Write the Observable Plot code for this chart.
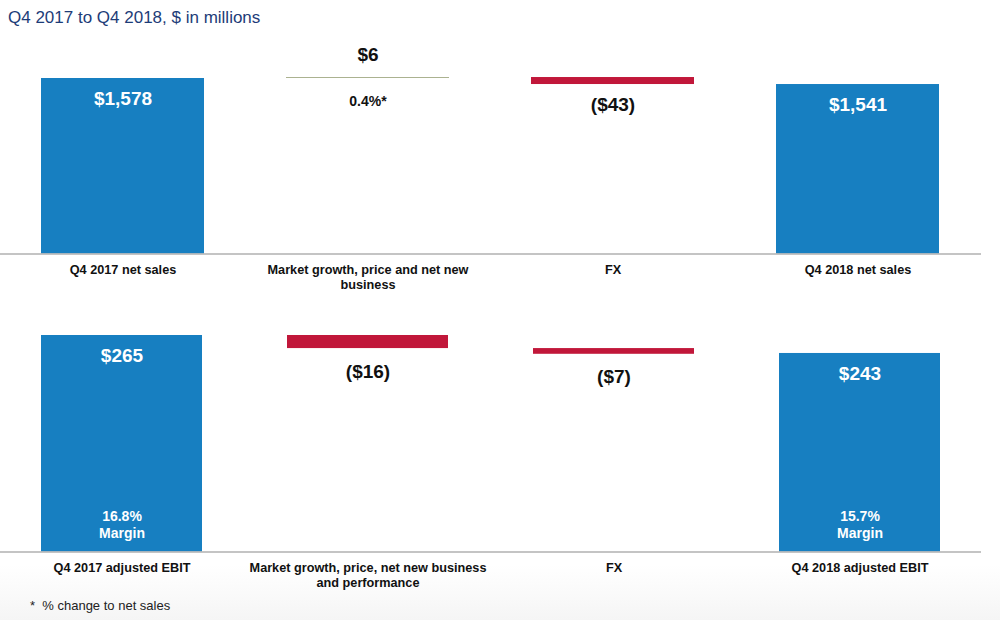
<!DOCTYPE html>
<html><head><meta charset="utf-8">
<script src="https://cdn.jsdelivr.net/npm/d3@7"></script>
<script src="https://cdn.jsdelivr.net/npm/@observablehq/plot@0.6"></script>
<style>
body{margin:0;width:1000px;height:620px;position:relative;overflow:hidden;font-family:"Liberation Sans",Arial,sans-serif;background:linear-gradient(#fff 0,#fff 565px,#f5f5f5 620px);}
#title{position:absolute;left:8px;top:8px;font-size:17px;line-height:20px;color:#1d3c78;white-space:nowrap;}
#top{position:absolute;left:0;top:30px;}
#bottom{position:absolute;left:0;top:300px;}
#note{position:absolute;left:30px;top:598px;font-size:13px;line-height:16px;color:#222;white-space:nowrap;}
svg{background:transparent;}
</style></head>
<body>
<div id="title">Q4 2017 to Q4 2018, $ in millions</div>
<div id="top"></div>
<div id="bottom"></div>
<div id="note">*&nbsp; % change to net sales</div>
<script>
// ---- Data ----
const salesCategories = ["Q4 2017 net sales", "Market growth, price and net new\nbusiness", "FX", "Q4 2018 net sales"];
const salesValues = [1578, 6, -43, 1541];
const salesKinds = ["total", "delta", "delta", "total"];
const salesValueLabels = ["$1,578", "$6", "($43)", "$1,541"];
const salesNoteLabels = ["", "0.4%*", "", ""];
const salesAxisBase = 500;

const ebitCategories = ["Q4 2017 adjusted EBIT", "Market growth, price, net new business\nand performance", "FX", "Q4 2018 adjusted EBIT"];
const ebitValues = [265, -16, -7, 243];
const ebitKinds = ["total", "delta", "delta", "total"];
const ebitValueLabels = ["$265", "($16)", "($7)", "$243"];
const ebitMarginLabels = ["16.8%\nMargin", "", "", "15.7%\nMargin"];
const ebitAxisBase = 0;

// ---- Colors ----
const BLUE = "#177fc1", RED = "#c1173a", OLIVE = "#a9b18e";

function build(cats, vals, kinds, base, valueLabels, noteLabels, marginLabels) {
  let run = 0;
  return cats.map((cat, i) => {
    let y1, y2;
    if (kinds[i] === "total") { y1 = base; y2 = vals[i]; run = vals[i]; }
    else { y1 = run; y2 = run + vals[i]; run = y2; }
    return {
      cat, v: vals[i], kind: kinds[i], y1, y2,
      top: Math.max(y1, y2), bottom: Math.min(y1, y2),
      label: valueLabels[i], note: noteLabels ? noteLabels[i] : "",
      margin: marginLabels ? marginLabels[i] : "",
      color: kinds[i] === "total" ? BLUE : (vals[i] >= 0 ? OLIVE : RED)
    };
  });
}

function chart(rows, cats, base, opts) {
  return Plot.plot({
    width: 1000,
    height: opts.height,
    marginLeft: 0,
    marginRight: 19,
    marginTop: 0,
    marginBottom: opts.marginBottom,
    style: {fontFamily: "'Liberation Sans', Arial, sans-serif", background: "transparent"},
    x: {domain: cats, paddingInner: opts.padIn, paddingOuter: 0.163, align: 0.5},
    y: {domain: opts.yDomain, range: opts.yRange, axis: null},
    color: {type: "identity"},
    marks: [
      Plot.barY(rows, {x: "cat", y1: "y1", y2: "y2", fill: "color"}),
      Plot.ruleY([base], {stroke: "#b0b0b0", strokeWidth: 1.5}),
      Plot.axisX({tickSize: 0, tickPadding: 10, fontSize: 12.7, fontWeight: "bold", fill: "#111", lineHeight: 1.15, label: null}),
      // totals: value inside top of bar
      Plot.text(rows.filter(d => d.kind === "total"), {x: "cat", y: "y2", text: "label", dy: 20, fill: "white", fontSize: 19, fontWeight: "bold"}),
      // totals: margin labels near bottom
      Plot.text(rows.filter(d => d.margin), {x: "cat", y: d => base, text: "margin", dy: -28, fill: "white", fontSize: 14, fontWeight: "bold", lineHeight: 1.21}),
      // positive deltas: value above
      Plot.text(rows.filter(d => d.kind === "delta" && d.v >= 0), {x: "cat", y: "top", text: "label", dy: -23, fill: "#111", fontSize: 19, fontWeight: "bold"}),
      Plot.text(rows.filter(d => d.kind === "delta" && d.v >= 0 && d.note), {x: "cat", y: "bottom", text: "note", dy: 23, fill: "#111", fontSize: 14, fontWeight: "bold"}),
      // negative deltas: value below
      Plot.text(rows.filter(d => d.kind === "delta" && d.v < 0), {x: "cat", y: "bottom", text: "label", dy: opts.negDy, fill: "#111", fontSize: 19, fontWeight: "bold"})
    ]
  });
}

const salesRows = build(salesCategories, salesValues, salesKinds, salesAxisBase, salesValueLabels, salesNoteLabels, null);
const ebitRows = build(ebitCategories, ebitValues, ebitKinds, ebitAxisBase, ebitValueLabels, null, ebitMarginLabels);

document.getElementById("top").appendChild(chart(salesRows, salesCategories, salesAxisBase, {
  height: 290, marginBottom: 66.5, yDomain: [salesAxisBase, salesValues[0]], yRange: [223.5, 48], negDy: 20, padIn: 0.333
}));
document.getElementById("bottom").appendChild(chart(ebitRows, ebitCategories, ebitAxisBase, {
  height: 300, marginBottom: 48.5, yDomain: [ebitAxisBase, ebitValues[0]], yRange: [251.5, 35], negDy: 23, padIn: 0.345
}));
</script>
</body></html>
